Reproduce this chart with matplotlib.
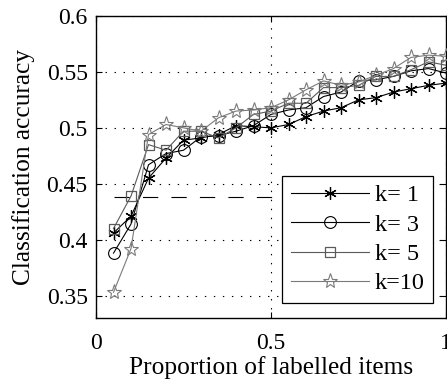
import matplotlib
matplotlib.use("Agg")
import matplotlib.pyplot as plt
import numpy as np

plt.rcParams['font.family'] = ['Liberation Serif', 'DejaVu Serif']
plt.rcParams['lines.scale_dashes'] = False

proportion = [0.05, 0.10, 0.15, 0.20, 0.25, 0.30, 0.35, 0.40, 0.45, 0.50,
              0.55, 0.60, 0.65, 0.70, 0.75, 0.80, 0.85, 0.90, 0.95, 1.00]
acc_k1 = [0.406, 0.421, 0.455, 0.473, 0.489, 0.491, 0.494, 0.502, 0.501, 0.500,
          0.503, 0.510, 0.515, 0.518, 0.525, 0.527, 0.532, 0.535, 0.538, 0.540]
acc_k3 = [0.388, 0.414, 0.467, 0.477, 0.480, 0.492, 0.493, 0.497, 0.502, 0.512,
          0.516, 0.518, 0.528, 0.532, 0.542, 0.543, 0.546, 0.551, 0.553, 0.549]
acc_k5 = [0.410, 0.439, 0.485, 0.480, 0.497, 0.497, 0.491, 0.500, 0.512, 0.515,
          0.522, 0.522, 0.536, 0.536, 0.538, 0.546, 0.546, 0.552, 0.559, 0.556]
acc_k10 = [0.353, 0.392, 0.494, 0.503, 0.500, 0.497, 0.509, 0.515, 0.516, 0.518,
           0.525, 0.534, 0.542, 0.538, 0.541, 0.547, 0.553, 0.563, 0.565, 0.564]
baseline_value = 0.438
baseline_x = [0.05, 0.9]
labels = ['k= 1', 'k= 3', 'k= 5', 'k=10']

fig = plt.figure(figsize=(4.47, 3.81), dpi=100)
ax = fig.add_axes([96/447, 1-318/381, 350/447, 302/381])

ax.plot(baseline_x, [baseline_value, baseline_value], color='black', lw=0.8,
        dashes=(11, 9.5), zorder=1)

asterisk = (6, 2, 0)
ax.plot(proportion, acc_k1, color='black', lw=0.8, marker=asterisk, ms=9,
        mew=0.9, label=labels[0], zorder=3)
ax.plot(proportion, acc_k3, color='black', lw=0.8, marker='o', ms=8.5,
        mfc='none', mew=0.8, label=labels[1], zorder=3)
ax.plot(proportion, acc_k5, color='#5a5a5a', lw=0.8, marker='s', ms=7.5,
        mfc='none', mew=0.9, label=labels[2], zorder=3)
ax.plot(proportion, acc_k10, color='#7a7a7a', lw=0.8, marker='*', ms=11,
        mfc='none', mew=0.8, label=labels[3], zorder=3)

ax.set_xlim(0, 1)
ax.set_ylim(0.33, 0.6)
ax.set_xticks([0, 0.5, 1])
ax.set_xticklabels(['0', '0.5', '1'])
ax.set_yticks([0.35, 0.4, 0.45, 0.5, 0.55, 0.6])
ax.set_yticklabels(['0.35', '0.4', '0.45', '0.5', '0.55', '0.6'])
ax.tick_params(direction='in', length=4, width=0.8, top=True, right=True,
               labelsize=17)
ax.tick_params(axis='x', pad=11)
ax.tick_params(axis='y', pad=6)
ax.grid(True, color='black', linestyle=(0, (1, 5.5)), lw=0.8)
for s in ax.spines.values():
    s.set_linewidth(1.0)

ax.set_xlabel('Proportion of labelled items', fontsize=18.3, labelpad=1)
ax.set_ylabel('Classification accuracy', fontsize=18.3, labelpad=8)

leg = ax.legend(loc='lower right', bbox_to_anchor=(0.963, 0.05),
                borderaxespad=0, fontsize=17.5, fancybox=False,
                framealpha=1, edgecolor='black', handlelength=3.2,
                labelspacing=0.3, handletextpad=0.25, borderpad=0.35)
leg.get_frame().set_linewidth(0.9)

fig.savefig('out.png', dpi=100)
